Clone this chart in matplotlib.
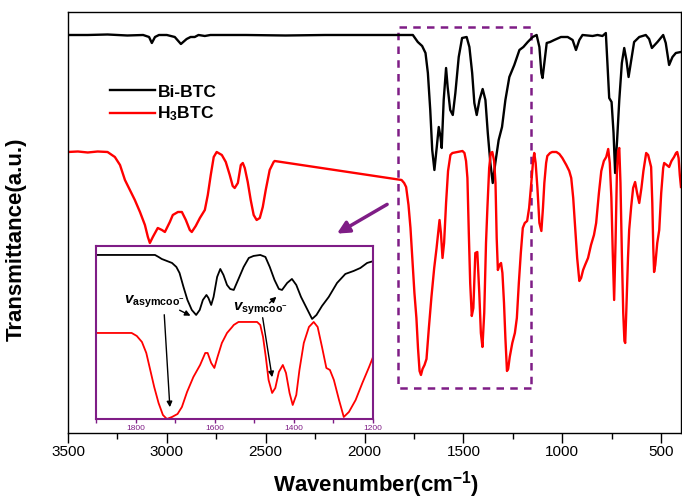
import numpy as np
import matplotlib
matplotlib.use('Agg')
import matplotlib.pyplot as plt
from matplotlib.patches import Rectangle

plt.rcParams['font.family'] = ['Liberation Sans', 'DejaVu Sans']
plt.rcParams['mathtext.fontset'] = 'custom'
plt.rcParams['mathtext.rm'] = 'Liberation Sans:bold'
plt.rcParams['mathtext.it'] = 'Liberation Sans:italic:bold'
plt.rcParams['mathtext.bf'] = 'Liberation Sans:bold'

# FTIR spectra, full range (wavenumber, transmittance a.u.)
bi_wn = [3500, 3400, 3300, 3200, 3120, 3090, 3076, 3060, 3040, 3000, 2960, 2929,
         2900, 2880, 2859, 2840, 2808, 2780, 2600, 2400, 2200, 2000, 1850, 1756,
         1731, 1709, 1692, 1680, 1668, 1658, 1647, 1635, 1625, 1616, 1610, 1600,
         1588, 1580, 1567, 1554, 1541, 1524, 1507, 1484, 1470, 1456, 1445, 1433,
         1419, 1403, 1389, 1377, 1364, 1352, 1339, 1322, 1305, 1288, 1268, 1243,
         1217, 1197, 1175, 1150, 1130, 1116, 1106, 1100, 1091, 1079, 1062, 1041,
         1007, 973, 948, 931, 914, 898, 847, 822, 797, 780, 771, 763, 751, 741,
         733, 723, 712, 699, 687, 676, 665, 653, 637, 611, 578, 561, 547, 519,
         490, 477, 460, 443, 426, 401]
bi_t = [398, 398, 398.5, 397.5, 398, 396, 390, 396, 398, 398, 396, 389,
        394, 396, 396, 398, 397, 398, 398, 397.5, 398, 398, 398, 398,
        391, 387, 380, 360, 323, 283, 263, 286, 306, 296, 285, 333,
        365, 346, 323, 318, 340, 376, 395, 396, 386, 360, 330, 318,
        333, 344, 333, 300, 270, 250, 270, 293, 306, 333, 356, 368,
        383, 386, 391, 396, 398, 386, 360, 355, 370, 390, 391, 393,
        396, 396, 393, 383, 393, 398, 397, 398, 397, 400, 366, 335, 331, 300,
        260, 293, 333, 370, 385, 373, 356, 371, 391, 396, 398, 394, 385, 391,
        398, 390, 368, 376, 380, 381]

h3_wn = [3500, 3450, 3400, 3350, 3300, 3263, 3237, 3212, 3187, 3162, 3136, 3111,
         3096, 3086, 3071, 3046, 3025, 3010, 2985, 2970, 2944, 2924, 2904, 2884,
         2874, 2854, 2833, 2808, 2793, 2778, 2763, 2748, 2722, 2702, 2682, 2667,
         2657, 2641, 2626, 2616, 2606, 2591, 2576, 2561, 2546, 2530, 2515, 2500,
         2480, 2460, 2455, 1813, 1800, 1790, 1778, 1768, 1758, 1748, 1738, 1730,
         1722, 1715, 1707, 1697, 1687, 1675, 1662, 1648, 1636, 1628, 1621, 1614,
         1606, 1598, 1588, 1578, 1566, 1556, 1530, 1505, 1495, 1487, 1480, 1473,
         1466, 1458, 1450, 1440, 1430, 1420, 1412, 1404, 1395, 1386, 1379, 1370,
         1362, 1354, 1345, 1338, 1332, 1326, 1318, 1310, 1303, 1295, 1288, 1280,
         1274, 1266, 1253, 1240, 1230, 1220, 1210, 1200, 1190, 1178, 1168, 1157,
         1148, 1142, 1135, 1126, 1116, 1106, 1098, 1091, 1082, 1076, 1062, 1051,
         1030, 1015, 1000, 980, 965, 955, 945, 935, 925, 914, 905, 895,
         885, 870, 855, 840, 829, 815, 803, 790, 778, 768, 760, 752,
         745, 738, 731, 724, 718, 712, 706, 699, 692, 686, 682, 676,
         668, 662, 652, 642, 632, 622, 611, 600, 590, 576, 566, 556,
         551, 545, 540, 536, 530, 520, 510, 500, 490, 485, 472, 460,
         448, 435, 425, 419, 412, 406, 400]
h3_t = [281, 281.5, 280.5, 281.5, 281, 276, 268, 253, 243, 233, 221, 208,
        196, 190, 196, 205, 203, 201, 211, 218, 221, 221, 213, 203,
        201, 207, 215, 223, 238, 258, 276, 281, 278, 271, 258, 247,
        245, 250, 268, 270, 265, 251, 233, 218, 213, 215, 226, 243,
        263, 271, 272, 253, 250, 246, 228, 205, 173, 140, 115, 85,
        62, 58, 64, 68, 74, 105, 136, 165, 185, 200, 213, 200,
        175, 190, 230, 262, 278, 280, 281, 282, 280, 272, 255, 200,
        150, 117, 125, 180, 181, 140, 100, 86, 120, 190, 225, 265,
        280, 281, 272, 250, 195, 163, 168, 170, 160, 130, 95, 62,
        64, 76, 90, 100, 115, 150, 180, 205, 210, 212, 225, 250,
        272, 280, 270, 245, 210, 202, 225, 250, 270, 277, 280, 281,
        281, 279, 275, 268, 262, 255, 235, 205, 175, 152, 155, 163,
        168, 175, 188, 198, 210, 240, 262, 272, 276, 284, 270, 235,
        180, 133, 190, 260, 282, 285, 250, 180, 120, 92, 90, 125,
        175, 203, 226, 245, 251, 240, 230, 245, 262, 280, 278, 270,
        266, 230, 185, 161, 168, 190, 203, 240, 265, 270, 268, 266,
        272, 276, 280, 281, 275, 258, 246]

# enlarged 1900-1200 region
in_bi_wn = [1900, 1751, 1742, 1734, 1721, 1708, 1697, 1689, 1679, 1669, 1658, 1647,
            1638, 1630, 1621, 1616, 1609, 1603, 1594, 1586, 1578, 1569, 1561, 1552,
            1540, 1527, 1514, 1502, 1485, 1472, 1461, 1449, 1438, 1430, 1417, 1405,
            1394, 1382, 1368, 1354, 1343, 1329, 1312, 1291, 1270, 1249, 1232, 1215,
            1198]
in_bi_t = [164, 164, 162, 160, 158, 156, 152, 146, 132, 119, 109, 104,
           109, 119, 124, 121, 114, 122, 142, 150, 144, 134, 130, 129,
           140, 152, 161, 163, 164, 162, 152, 139, 130, 129, 136, 140,
           134, 122, 111, 100, 104, 113, 122, 136, 145, 148, 151, 156,
           158]
in_h3_wn = [1900, 1810, 1797, 1784, 1773, 1763, 1753, 1742, 1731, 1721, 1708, 1694,
            1683, 1670, 1654, 1637, 1624, 1618, 1609, 1601, 1593, 1582, 1569, 1556,
            1552, 1540, 1510, 1493, 1485, 1478, 1471, 1464, 1455, 1447, 1438, 1428,
            1420, 1411, 1403, 1394, 1386, 1375, 1362, 1350, 1340, 1329, 1318, 1309,
            1299, 1286, 1274, 1261, 1244, 1227, 1210, 1198]
in_h3_t = [86, 86, 83, 77, 66, 49, 32, 16, 4, 0, 2, 5,
           12, 27, 42, 54, 66, 66, 56, 51, 62, 76, 86, 92,
           94, 97, 97, 97, 94, 82, 62, 39, 26, 31, 47, 54,
           46, 26, 14, 24, 49, 76, 92, 97, 92, 72, 51, 49,
           39, 19, 2, 7, 19, 36, 52, 64]

purple = '#7f1d86'

fig = plt.figure(figsize=(6.82, 5.04), dpi=100)
ax = fig.add_axes([0.0997, 0.1409, 0.8988, 0.8353])

ax.plot(bi_wn, bi_t, color='black', lw=1.7, label='Bi-BTC', solid_joinstyle='round')
ax.plot(h3_wn, h3_t, color='red', lw=1.7, label='H$_3$BTC', solid_joinstyle='round')
ax.set_xlim(3500, 400)
ax.set_ylim(0, 421)
ax.set_xticks([3500, 3000, 2500, 2000, 1500, 1000, 500])
ax.set_xticks(np.arange(3250, 400, -500), minor=True)
ax.set_yticks([])
ax.tick_params(axis='x', which='major', direction='out', length=7, width=1, labelsize=11, pad=1.5)
ax.tick_params(axis='x', which='minor', direction='out', length=4, width=1)
for s in ax.spines.values():
    s.set_linewidth(1.0)

ax.set_xlabel('Wavenumber(cm$^{-1}$)', fontsize=16, fontweight='bold')
ax.set_ylabel('Transmittance(a.u.)', fontsize=16, fontweight='bold')
ax.xaxis.set_label_coords(0.502, -0.085)
ax.yaxis.set_label_coords(-0.067, 0.46)

leg = ax.legend(loc='upper left', bbox_to_anchor=(0.068, 0.828), frameon=False,
                prop={'weight': 'bold', 'size': 12.5}, handlelength=2.6,
                handletextpad=0.15, labelspacing=0.3, borderpad=0, borderaxespad=0)

# dashed box around the zoomed region
ax.add_patch(Rectangle((1160, 45), 670, 361, fill=False, ls=(0, (3, 2.5)),
                       lw=1.8, edgecolor=purple))
ax.annotate('', xy=(2152, 198), xytext=(1874, 230),
            arrowprops=dict(arrowstyle='-|>', color=purple, lw=2.5, mutation_scale=18))

# inset
ax_in = fig.add_axes([0.1408, 0.1687, 0.4062, 0.3433])
ax_in.plot(in_bi_wn, in_bi_t, color='black', lw=1.3, solid_joinstyle='round')
ax_in.plot(in_h3_wn, in_h3_t, color='red', lw=1.3, solid_joinstyle='round')
ax_in.set_xlim(1900, 1200)
ax_in.set_ylim(0, 173)
ax_in.set_yticks([])
ax_in.set_xticks([1800, 1600, 1400, 1200])
ax_in.set_xticks([1900, 1700, 1500, 1300], minor=True)
ax_in.tick_params(axis='x', which='both', direction='out', colors=purple, length=3,
                  width=1, labelsize=6, pad=1.5)
for s in ax_in.spines.values():
    s.set_color(purple)
    s.set_linewidth(1.5)

ax_in.text(1829, 115, r'$v_{\mathrm{asymcoo}^{-}}$', fontsize=11, ha='left', va='baseline')
ax_in.text(1553, 108, r'$v_{\mathrm{symcoo}^{-}}$', fontsize=11, ha='left', va='baseline')
arrow_kw = dict(arrowstyle='-|>', color='black', lw=1.0, mutation_scale=8)
ax_in.annotate('', xy=(1655, 102), xytext=(1695, 110), arrowprops=arrow_kw)
ax_in.annotate('', xy=(1713, 9), xytext=(1728, 107), arrowprops=arrow_kw)
ax_in.annotate('', xy=(1439, 124), xytext=(1467, 114), arrowprops=arrow_kw)
ax_in.annotate('', xy=(1454, 39), xytext=(1480, 104), arrowprops=arrow_kw)

fig.savefig('out.png', dpi=100)
